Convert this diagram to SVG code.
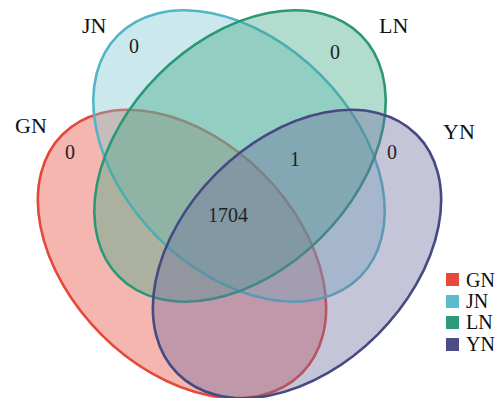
<svg xmlns="http://www.w3.org/2000/svg" width="500" height="398" viewBox="0 0 500 398">
<style>
.set{stroke-width:2.6;fill-opacity:0.4}
.lbl{font-family:"Liberation Serif","Times New Roman",serif;font-size:22px;fill:#111}
.num{font-family:"Liberation Serif","Times New Roman",serif;font-size:20px;fill:#222;text-anchor:middle}
.leg{font-family:"Liberation Serif","Times New Roman",serif;font-size:20px;fill:#111}
</style>
<rect width="500" height="398" fill="#fff"/>
<g id="GN">
<ellipse class="set" cx="182" cy="254" rx="169" ry="114" transform="rotate(45 182 254)" fill="#e8483a" stroke="#e5473a"/>
</g>
<g id="JN">
<ellipse class="set" cx="239" cy="156" rx="171" ry="115" transform="rotate(45 239 156)" fill="#7cc5d0" stroke="#52b5c6"/>
</g>
<g id="LN">
<ellipse class="set" cx="240" cy="156" rx="171" ry="115" transform="rotate(-45 240 156)" fill="#3fa784" stroke="#2a9877"/>
</g>
<g id="YN">
<ellipse class="set" cx="297" cy="254" rx="169" ry="114" transform="rotate(-45 297 254)" fill="#6d6fa0" stroke="#464a82"/>
</g>
<g id="connectors"></g>
<g id="labels">
<text class="lbl" x="82" y="33">JN</text>
<text class="lbl" x="379" y="33">LN</text>
<text class="lbl" x="15" y="133">GN</text>
<text class="lbl" x="443" y="139">YN</text>
<text class="num" x="134" y="53">0</text>
<text class="num" x="335" y="59">0</text>
<text class="num" x="70" y="159">0</text>
<text class="num" x="392" y="159">0</text>
<text class="num" x="295" y="166">1</text>
<text class="num" x="228" y="222">1704</text>
</g>
<g id="legend">
<rect x="446" y="273" width="13" height="13" fill="#e8483a"/>
<text class="leg" x="466" y="287">GN</text>
<rect x="446" y="295" width="13" height="13" fill="#5bbccb"/>
<text class="leg" x="466" y="308">JN</text>
<rect x="446" y="316" width="13" height="13" fill="#2e9a7c"/>
<text class="leg" x="466" y="329">LN</text>
<rect x="446" y="338" width="13" height="13" fill="#4a4e85"/>
<text class="leg" x="466" y="351">YN</text>
</g>
</svg>
